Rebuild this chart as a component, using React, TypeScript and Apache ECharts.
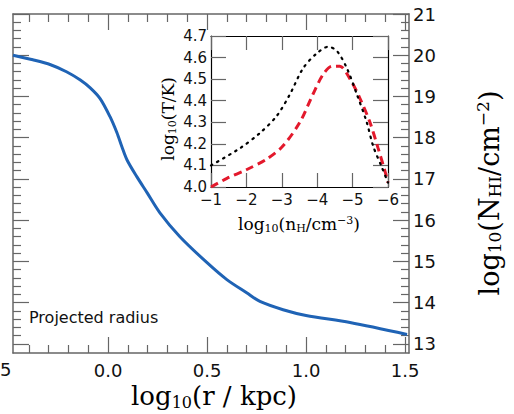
import React, { useEffect, useRef } from "react";
import * as echarts from "echarts";

// Main panel: column density vs projected radius
const radiusLog = [-0.48, -0.38, -0.29, -0.21, -0.14, -0.09, -0.04, 0.01, 0.045, 0.07, 0.096, 0.146, 0.197, 0.262, 0.363, 0.5, 0.6, 0.7, 0.767, 0.884, 1.0, 1.222, 1.51];
const columnDensity = [20.0, 19.89, 19.77, 19.6, 19.4, 19.21, 18.95, 18.51, 18.12, 17.78, 17.46, 17.05, 16.67, 16.18, 15.6, 14.97, 14.56, 14.24, 14.03, 13.83, 13.69, 13.52, 13.23];

// Inset: temperature vs density
const nHDotted = [-1.0, -1.82, -2.38, -2.86, -3.23, -3.6, -3.99, -4.31, -4.56, -4.84, -5.12, -5.4, -5.58, -5.83, -6.0];
const tempDotted = [4.1, 4.18, 4.25, 4.33, 4.43, 4.55, 4.62, 4.65, 4.63, 4.55, 4.43, 4.3, 4.19, 4.09, 4.02];
const nHDashed = [-1.0, -1.45, -2.0, -2.58, -3.03, -3.51, -3.88, -4.16, -4.42, -4.64, -4.93, -5.21, -5.49, -5.72, -5.92, -6.0];
const tempDashed = [4.0, 4.04, 4.08, 4.13, 4.19, 4.3, 4.43, 4.52, 4.56, 4.56, 4.5, 4.41, 4.3, 4.18, 4.07, 4.02];

// Tick labels
const xMajorTicks = [0.0, 0.5, 1.0, 1.5];
const yMajorTicks = [13, 14, 15, 16, 17, 18, 19, 20, 21];
const insetXTicks = [-1, -2, -3, -4, -5, -6];
const insetYTicks = [4.0, 4.1, 4.2, 4.3, 4.4, 4.5, 4.6, 4.7];

function minorValues(from: number, to: number, step: number, majors: number[]) {
  const out: number[] = [];
  const n = Math.round((to - from) / step);
  for (let i = 0; i <= n; i++) {
    const v = Math.round((from + i * step) * 100) / 100;
    if (!majors.some((m) => Math.abs(m - v) < 1e-6)) out.push(v);
  }
  return out;
}

const SANS = "DejaVu Sans";
const SERIF = "DejaVu Serif";
const TICK = "#666";

export default function App() {
  const ref = useRef<HTMLDivElement>(null);
  useEffect(() => {
    if (!ref.current) return;
    const chart = echarts.init(ref.current, undefined, { renderer: "svg" });
    const xMinor = minorValues(-0.4, 1.5, 0.1, xMajorTicks);
    const yMinor = minorValues(13, 21, 0.2, yMajorTicks);
    const minus = (v: number) => String(v).replace("-", "\u2212");

    const mainX = (pos: "bottom" | "top", ticks: number[], len: number, labels: boolean, line: boolean) => ({
      type: "value",
      gridIndex: 0,
      min: -0.48,
      max: 1.52,
      position: pos,
      axisLine: { show: line, onZero: false, lineStyle: { color: TICK, width: 1.5 } },
      axisTick: { show: true, inside: true, length: len, customValues: ticks, lineStyle: { color: TICK, width: 1.2 } },
      axisLabel: labels
        ? { show: true, customValues: ticks, formatter: (v: number) => v.toFixed(1), fontFamily: SANS, fontSize: 18, color: "#111", margin: 8 }
        : { show: false },
      splitLine: { show: false },
    });
    const mainY = (pos: "left" | "right", ticks: number[], len: number, labels: boolean, line: boolean) => ({
      type: "value",
      gridIndex: 0,
      min: 12.78,
      max: 21.0,
      position: pos,
      axisLine: { show: line, onZero: false, lineStyle: { color: TICK, width: 1.5 } },
      axisTick: { show: true, inside: true, length: len, customValues: ticks, lineStyle: { color: TICK, width: 1.2 } },
      axisLabel: labels
        ? { show: true, customValues: ticks, formatter: (v: number) => String(v), fontFamily: SANS, fontSize: 18, color: "#111", margin: 4 }
        : { show: false },
      splitLine: { show: false },
    });

    const insetX = (pos: "bottom" | "top", labels: boolean) => ({
      type: "value",
      gridIndex: 1,
      min: -6,
      max: -1,
      interval: 1,
      inverse: true,
      position: pos,
      axisLine: { show: true, onZero: false, lineStyle: { color: "#000", width: 1.2 } },
      axisTick: { show: true, inside: true, length: 14, lineStyle: { color: TICK, width: 1.2 } },
      axisLabel: labels
        ? { show: true, formatter: minus, fontFamily: SANS, fontSize: 15, color: "#111", margin: 5 }
        : { show: false },
      splitLine: { show: false },
    });
    const insetY = (pos: "left" | "right", labels: boolean) => ({
      type: "value",
      gridIndex: 1,
      min: 4.0,
      max: 4.7,
      interval: 0.1,
      position: pos,
      axisLine: { show: true, onZero: false, lineStyle: { color: "#000", width: 1.2 } },
      axisTick: { show: true, inside: true, length: 15, lineStyle: { color: TICK, width: 1.2 } },
      axisLabel: labels
        ? { show: true, formatter: (v: number) => v.toFixed(1), fontFamily: SANS, fontSize: 15, color: "#111", margin: 4 }
        : { show: false },
      splitLine: { show: false },
    });

    const bigRich = (size: number) => ({
      a: { fontFamily: SERIF, fontSize: size, color: "#111", lineHeight: size + 2 },
      s: { fontFamily: SERIF, fontSize: Math.round(size * 0.62), color: "#111", lineHeight: Math.round(size * 0.62), verticalAlign: "bottom" },
      p: { fontFamily: SERIF, fontSize: Math.round(size * 0.62), color: "#111", lineHeight: Math.round(size * 0.62), verticalAlign: "top" },
    });

    chart.setOption({
      animation: false,
      backgroundColor: "#fff",
      grid: [
        { left: 13, top: 14, width: 396, height: 339, show: false },
        { left: 211, top: 36, width: 177, height: 151, show: true, backgroundColor: "#fff", borderWidth: 0 },
      ],
      xAxis: [
        mainX("bottom", xMajorTicks, 16, true, true),
        mainX("bottom", xMinor, 8, false, false),
        mainX("top", xMajorTicks, 16, false, true),
        mainX("top", xMinor, 8, false, false),
        insetX("bottom", true),
        insetX("top", false),
      ],
      yAxis: [
        mainY("right", yMajorTicks, 16, true, true),
        mainY("right", yMinor, 8, false, false),
        mainY("left", yMajorTicks, 16, false, true),
        mainY("left", yMinor, 8, false, false),
        insetY("left", true),
        insetY("right", false),
      ],
      series: [
        {
          type: "line",
          xAxisIndex: 0,
          yAxisIndex: 0,
          data: radiusLog.map((x, i) => [x, columnDensity[i]]),
          showSymbol: false,
          smooth: 0.3,
          lineStyle: { color: "#1f63b5", width: 3 },
          z: 3,
        },
        {
          type: "line",
          xAxisIndex: 4,
          yAxisIndex: 4,
          data: nHDotted.map((x, i) => [x, tempDotted[i]]),
          showSymbol: false,
          smooth: 0.3,
          lineStyle: { color: "#000", width: 2.2, type: [1.5, 5.5], cap: "round" },
          z: 5,
        },
        {
          type: "line",
          xAxisIndex: 4,
          yAxisIndex: 4,
          data: nHDashed.map((x, i) => [x, tempDashed[i]]),
          showSymbol: false,
          smooth: 0.3,
          lineStyle: { color: "#e3192c", width: 3, type: [8, 5] },
          z: 4,
        },
      ],
      graphic: [
        {
          type: "text",
          left: 29,
          top: 309,
          style: { text: "Projected radius", fontFamily: SANS, fontSize: 16, fill: "#111" },
        },
        {
          type: "text",
          left: 0,
          top: 360,
          style: { text: "5", fontFamily: SANS, fontSize: 18, fill: "#111" },
        },
        {
          type: "text",
          x: 214,
          y: 396,
          style: {
            text: "{a|log}{s|10}{a|(r / kpc)}",
            rich: bigRich(26),
            align: "center",
            verticalAlign: "middle",
          },
        },
        {
          type: "text",
          x: 489,
          y: 193,
          rotation: Math.PI / 2,
          style: {
            text: "{a|log}{s|10}{a|(N}{s|HI}{a|/cm}{p|\u22122}{a|)}",
            rich: bigRich(27),
            align: "center",
            verticalAlign: "middle",
          },
        },
        {
          type: "text",
          x: 168,
          y: 119,
          rotation: Math.PI / 2,
          style: {
            text: "{a|log}{s|10}{a|(T/K)}",
            rich: bigRich(17),
            align: "center",
            verticalAlign: "middle",
          },
        },
        {
          type: "text",
          x: 299,
          y: 224,
          style: {
            text: "{a|log}{s|10}{a|(n}{s|H}{a|/cm}{p|\u22123}{a|)}",
            rich: bigRich(17),
            align: "center",
            verticalAlign: "middle",
          },
        },
      ],
    });
    return () => chart.dispose();
  }, []);
  return (
    <div style={{ position: "fixed", left: 0, top: 0, width: 514, height: 414, background: "#fff" }}>
      <div ref={ref} style={{ width: 514, height: 414 }} />
    </div>
  );
}
